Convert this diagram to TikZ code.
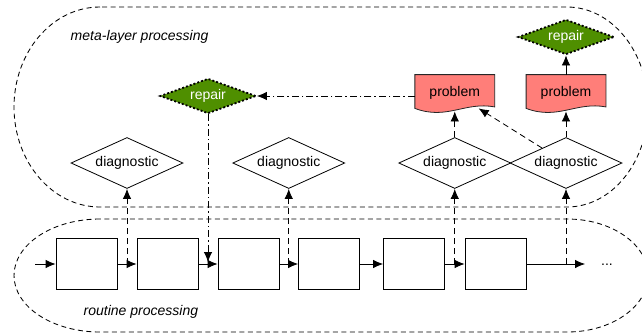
\documentclass[tikz,border=0pt]{standalone}
\usepackage{fontspec}
\setmainfont{Liberation Sans}
\usetikzlibrary{shapes.geometric,arrows.meta,calc}
\definecolor{fern}{HTML}{4F8F00}
\definecolor{salmon}{HTML}{FF7E79}
\begin{document}
\begin{tikzpicture}[x=1pt,y=-1pt, font=\fontsize{14}{16}\selectfont,
 line width=0.8pt,
 tip/.style={-{Latex[length=10pt,width=8.5pt]}},
 region/.style={draw, dash pattern=on 5pt off 3.5pt, line width=0.85pt},
 box/.style={draw, rectangle, minimum width=61pt, minimum height=51pt, inner sep=0},
 diag/.style={draw, diamond, minimum width=112pt, minimum height=51pt, inner sep=0, aspect=2.2},
 rep/.style={diamond, fill=fern, draw=black, line width=1.8pt, dash pattern=on 2pt off 2pt, minimum width=96pt, minimum height=35pt, inner sep=0, aspect=2.7, text=white},
 probbox/.style={rectangle, minimum width=79pt, minimum height=33pt, inner sep=0},
 probshape/.style={fill=salmon, draw=black!85, line width=0.8pt},
 dashedarrow/.style={tip, dash pattern=on 6pt off 4pt},
 dashdot/.style={tip, dash pattern=on 7pt off 3pt on 1.5pt off 3pt},
 lbl/.style={font=\fontsize{14}{16}\selectfont\itshape, anchor=west}
]
\useasboundingbox (0,0) rectangle (642,333);
\clip (0,0) rectangle (642,333);

% regions
\draw[region] (100,7) arc[start angle=90, end angle=270, x radius=86pt, y radius=100pt]
  -- (567,207) arc[start angle=-90, end angle=90, x radius=81pt, y radius=100pt] -- cycle;
\draw[region] (100,219) arc[start angle=90, end angle=270, x radius=86pt, y radius=56.5pt]
  -- (567,332) arc[start angle=-90, end angle=90, x radius=81pt, y radius=56.5pt] -- cycle;

\node[lbl] (metalbl) at (67,37) {meta-layer processing};
\node[lbl] (routlbl) at (80,312) {routine processing};

% routine boxes
\node[box] (b1) at (86.5,264) {};
\node[box] (b2) at (167.5,264) {};
\node[box] (b3) at (248.5,264) {};
\node[box] (b4) at (329,264) {};
\node[box] (b5) at (414,264) {};
\node[box] (b6) at (495.5,264) {};
\coordinate (in) at (35,264);
\coordinate (out) at (585,264);
\node (dots) at (607,265) {...};

\coordinate (m12) at ($(b1.east)!0.5!(b2.west)$);
\coordinate (m23) at ($(b2.east)!0.5!(b3.west)$);
\coordinate (m34) at ($(b3.east)!0.5!(b4.west)$);
\coordinate (m56) at ($(b5.east)!0.5!(b6.west)$);
\coordinate (m6) at (566,264);

\coordinate (dy) at (0,163);
\coordinate (py) at (0,91.5);
\coordinate (ry) at (0,96);

% diagnostics
\node[diag] (d1) at (m12 |- dy) {diagnostic};
\node[diag] (d2) at (m34 |- dy) {diagnostic};
\node[diag] (d3) at (m56 |- dy) {diagnostic};
\node[diag] (d4) at (m6 |- dy) {diagnostic};

% problems
\node[probbox] (p1) at (d3 |- py) {};
\node[probbox] (p2) at (d4 |- py) {};
\foreach \p in {p1,p2}{
  \filldraw[probshape] (\p.north west) -- (\p.north east) -- ($(\p.south east)+(0,-1.5)$)
    .. controls ($(\p.south east)+(-30,-7)$) and ($(\p.south west)+(32,12)$) .. (\p.south west) -- cycle;
}
\node (p1t) at ($(p1)+(0,1.5)$) {problem};
\node (p2t) at ($(p2)+(0,1.5)$) {problem};
\coordinate (p1b) at ($(p1.south)+(0,3)$);
\coordinate (p2b) at ($(p2.south)+(0,3)$);
\coordinate (p1c) at ($(p1.south east)+(-16,0)$);

% repairs
\node[rep] (r1) at (m23 |- ry) {repair};
\node[rep] (r2) at (566,37) {repair};

% connectors
\draw[tip] (in) -- (b1);
\draw[tip] (b1) -- (b2);
\draw[tip] (b2) -- (b3);
\draw[tip] (b3) -- (b4);
\draw[tip] (b4) -- (b5);
\draw[tip] (b5) -- (b6);
\draw[tip] (b6) -- (out);

\draw[dashedarrow] (m12) -- (d1);
\draw[dashedarrow] (m34) -- (d2);
\draw[dashedarrow] (m56) -- (d3);
\draw[dashedarrow] (m6) -- (d4);
\draw[dashedarrow] (d3) -- (p1b);
\draw[dashedarrow] (d4) -- (p2b);
\draw[dashedarrow] (d4) -- (p1c);
\draw[tip] (p2) -- (r2);
\draw[dashdot] (p1.west |- r1) -- (r1);
\draw[dashdot, shorten >=2pt] (r1) -- (m23);
\end{tikzpicture}
\end{document}
